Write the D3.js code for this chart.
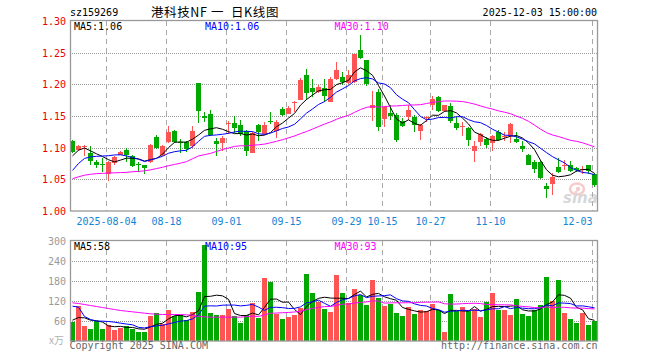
<!DOCTYPE html>
<html>
<head>
<meta charset="utf-8">
<script src="https://cdn.jsdelivr.net/npm/d3@7"></script>
<style>
  body { margin: 0; background: #fff; }
  svg { display: block; }
  text { font-family: "DejaVu Sans Mono", monospace; font-size: 10px; }
</style>
</head>
<body>
<div id="kline"></div>
<script>
// daily bars, 2025-07-25 .. 2025-12-03
const dates = ["07-25",
  "07-28","07-29","07-30","07-31","08-01",
  "08-04","08-05","08-06","08-07","08-08",
  "08-11","08-12","08-13","08-14","08-15",
  "08-18","08-19","08-20","08-21","08-22",
  "08-25","08-26","08-27","08-28","08-29",
  "09-01","09-02","09-03","09-04","09-05",
  "09-08","09-09","09-10","09-11","09-12",
  "09-15","09-16","09-17","09-18","09-19",
  "09-22","09-23","09-24","09-25","09-26",
  "09-29","09-30","10-09","10-10",
  "10-13","10-14","10-15","10-16","10-17",
  "10-20","10-21","10-22","10-23","10-24",
  "10-27","10-28","10-29","10-30","10-31",
  "11-03","11-04","11-05","11-06","11-07",
  "11-10","11-11","11-12","11-13","11-14",
  "11-17","11-18","11-19","11-20","11-21",
  "11-24","11-25","11-26","11-27","11-28",
  "12-01","12-02","12-03"];

const open = [1.1099,
  1.0964,1.1010,1.0917,1.0781,1.0735,
  1.0578,1.0760,1.0888,1.0969,1.0875,
  1.0740,1.0719,1.0771,1.1161,1.0890,
  1.1089,1.1266,1.1089,1.1094,1.1020,
  1.2019,1.1507,1.1533,1.1110,1.1073,
  1.1380,1.1397,1.1360,1.1256,1.0916,
  1.1360,1.1220,1.1415,1.1266,1.1610,
  1.1528,1.1706,1.1752,1.2155,1.1946,
  1.1883,1.1936,1.1726,1.2077,1.2108,
  1.2024,1.2040,1.2537,1.2380,
  1.1622,1.1883,1.1449,1.1554,1.1517,
  1.1417,1.1491,1.1491,1.1266,1.1480,
  1.1674,1.1794,1.1585,1.1660,1.1397,
  1.1340,1.1307,1.0943,1.1083,1.1135,
  1.1073,1.1245,1.1180,1.1177,1.1135,
  1.1031,1.0891,1.0771,1.0771,1.0396,
  1.0422,1.0698,1.0713,1.0719,1.0682,
  1.0651,1.0719,1.0578];

const high = [1.1115,
  1.1036,1.1040,1.1026,1.0813,1.0839,
  1.0786,1.0875,1.0950,1.0995,1.0890,
  1.0776,1.0720,1.1057,1.1193,1.1047,
  1.1344,1.1276,1.1140,1.1110,1.1340,
  1.2025,1.1560,1.1596,1.1150,1.1178,
  1.1423,1.1502,1.1439,1.1282,1.1245,
  1.1370,1.1400,1.1560,1.1440,1.1650,
  1.1660,1.1737,1.2103,1.2249,1.2092,
  1.1988,1.2082,1.2118,1.2354,1.2197,
  1.2223,1.2484,1.2772,1.2380,
  1.1894,1.1930,1.1658,1.1674,1.1543,
  1.1469,1.1674,1.1517,1.1376,1.1506,
  1.1815,1.1815,1.1674,1.1700,1.1491,
  1.1411,1.1333,1.1099,1.1229,1.1167,
  1.1203,1.1281,1.1255,1.1385,1.1245,
  1.1099,1.0906,1.0813,1.0813,1.0437,
  1.0594,1.0839,1.0802,1.0786,1.0693,
  1.0708,1.0734,1.0594];

const low = [1.0910,
  1.0950,1.0870,1.0724,1.0672,1.0620,
  1.0474,1.0734,1.0880,1.0776,1.0693,
  1.0620,1.0589,1.0755,1.0984,1.0875,
  1.1073,1.1073,1.0920,1.0930,1.1000,
  1.1387,1.1410,1.1178,1.0874,1.0942,
  1.1214,1.1230,1.1188,1.0864,1.0910,
  1.1110,1.1204,1.1370,1.1150,1.1507,
  1.1528,1.1560,1.1747,1.1752,1.1805,
  1.1857,1.1726,1.1726,1.2066,1.1988,
  1.2003,1.2024,1.2406,1.1972,
  1.1428,1.1266,1.1324,1.1439,1.1084,
  1.1328,1.1439,1.1240,1.1115,1.1413,
  1.1596,1.1570,1.1570,1.1387,1.1282,
  1.1177,1.1021,1.0771,1.1021,1.0995,
  1.0943,1.1099,1.1099,1.1073,1.1073,
  1.0927,1.0719,1.0604,1.0510,1.0198,
  1.0250,1.0604,1.0646,1.0615,1.0615,
  1.0578,1.0578,1.0385];

const close = [1.0938,
  1.1021,1.1025,1.0797,1.0734,1.0725,
  1.0771,1.0850,1.0938,1.0891,1.0708,
  1.0733,1.0672,1.1047,1.0995,1.1031,
  1.1255,1.1094,1.1078,1.0974,1.1270,
  1.1580,1.1465,1.1204,1.1057,1.1146,
  1.1390,1.1308,1.1214,1.0942,1.1230,
  1.1245,1.1360,1.1410,1.1413,1.1518,
  1.1632,1.1727,1.2066,1.1857,1.1873,
  1.1962,1.1815,1.2092,1.2233,1.2030,
  1.2145,1.2474,1.2422,1.2003,
  1.1673,1.1334,1.1648,1.1502,1.1115,
  1.1339,1.1596,1.1360,1.1360,1.1485,
  1.1763,1.1585,1.1669,1.1420,1.1310,
  1.1350,1.1125,1.1021,1.1219,1.1036,
  1.1177,1.1125,1.1190,1.1375,1.1094,
  1.0979,1.0734,1.0667,1.0526,1.0354,
  1.0542,1.0615,1.0719,1.0630,1.0646,
  1.0661,1.0630,1.0406];

// volume, 万
const volume = [56,
  104,44,34,60,34,
  47,32,39,44,34,
  26,26,73,83,51,
  91,74,78,61,86,
  146,288,82,78,76,
  94,74,53,78,112,
  67,188,175,80,64,
  70,77,98,199,142,
  116,94,86,196,142,
  112,154,138,106,
  182,127,103,109,82,
  74,100,79,91,88,
  109,91,25,139,88,
  100,88,94,70,115,
  142,91,91,76,124,
  79,73,91,106,190,
  118,181,82,64,52,
  82,46,58];

// moving-average values before a full window exists
const ma5Head = [1.087, 1.096, 1.0995, 1.095];
const ma10Head = [1.064, 1.075, 1.083, 1.0855, 1.0863, 1.0868, 1.0873, 1.0885, 1.0888];
const ma30Head = [1.051, 1.054, 1.0565, 1.058, 1.059, 1.0595, 1.060, 1.0603, 1.0606, 1.061,
  1.062, 1.0625, 1.0635, 1.065, 1.067, 1.069, 1.0715, 1.0735, 1.0755, 1.078,
  1.0825, 1.087, 1.089, 1.091, 1.094, 1.097, 1.0995, 1.102, 1.103];
const vma5Head = [61, 69, 68, 61];
const vma10Head = [103, 100, 72, 63, 58, 58, 57, 55, 52];
const vma30Head = [113, 111, 108, 105, 102, 99, 96, 93, 90, 88,
  86, 84, 82, 80, 79, 78, 78, 78, 78, 77,
  76, 72, 71, 70, 70, 70, 70, 70, 70];

const tickDates = ["08-04","08-18","09-01","09-15","09-29","10-15","10-27","11-10","12-03"];
const tickLabels = ["2025-08-04","08-18","09-01","09-15","09-29","10-15","10-27","11-10","12-03"];
const priceTicks = [1.00, 1.05, 1.10, 1.15, 1.20, 1.25, 1.30];
const volTicks = [60, 120, 180, 240, 300];
const priceMaLast = [1.06, 1.06, 1.10];
const volMaLast = [58, 95, 93];
const titleParts = ["港科技NF", "一", "日K线图"];

const W = 660, H = 360;
const left = 70, right = 597.5;
const UP = "#ff5454", DOWN = "#00a800";
const maColors = ["#000000", "#0000ff", "#ff00ff"];

const svg = d3.select("#kline").append("svg")
  .attr("width", W).attr("height", H)
  .attr("viewBox", `0 0 ${W} ${H}`);

const x = d3.scaleBand().domain(dates)
  .range([69.5, 597.5])
  .paddingInner(1 / 6).paddingOuter(1 / 12);
const bw = x.bandwidth();
const cx = d => x(d) + bw / 2;

const y = d3.scaleLinear().domain([1.0, 1.3]).range([211, 21]);
const yv = d3.scaleLinear().domain([0, 300]).range([340.5, 240.5]);

function movingAvg(vals, n, head) {
  return vals.map((v, i) => i < n - 1 ? head[i] : d3.mean(vals.slice(i - n + 1, i + 1)));
}

const priceMa = [movingAvg(close, 5, ma5Head), movingAvg(close, 10, ma10Head), movingAvg(close, 30, ma30Head)];
const volMa = [movingAvg(volume, 5, vma5Head), movingAvg(volume, 10, vma10Head), movingAvg(volume, 30, vma30Head)];

const px = v => Math.round(v) + 0.5;

// ---------- grids ----------
function grid(g, ys, top, bottom) {
  g.selectAll(".hg").data(ys).join("line")
    .attr("x1", left).attr("x2", right)
    .attr("y1", d => px(d)).attr("y2", d => px(d))
    .attr("stroke", "#9a9a9a").attr("stroke-dasharray", "1,1");
  g.selectAll(".vg").data(tickDates).join("line")
    .attr("x1", d => x(d) + 0.5).attr("x2", d => x(d) + 0.5)
    .attr("y1", top).attr("y2", bottom)
    .attr("stroke", "#a8a8a8").attr("stroke-dasharray", "5,4");
}

const gPrice = svg.append("g");
grid(gPrice, priceTicks.slice(1, -1).map(y), 21, 211);
const gVol = svg.append("g");
grid(gVol, volTicks.slice(0, -1).map(yv), 241, 340);

// ---------- watermark ----------
const wm = svg.append("g").attr("opacity", 0.55);
wm.append("ellipse").attr("cx", 577).attr("cy", 189).attr("rx", 7).attr("ry", 5.5)
  .attr("fill", "none").attr("stroke", "#f2a0a0").attr("stroke-width", 2.5);
wm.append("circle").attr("cx", 578).attr("cy", 189).attr("r", 2.2).attr("fill", "#f2a0a0");
wm.append("text").attr("x", 563).attr("y", 203)
  .style("font-family", "DejaVu Sans").style("font-size", "15px")
  .style("font-weight", "bold").style("font-style", "italic")
  .attr("fill", "#b8b8b8").text("sina");

// ---------- candles ----------
const idx = d3.range(dates.length);
const candles = svg.append("g");
candles.selectAll("line").data(idx).join("line")
  .attr("x1", i => cx(dates[i])).attr("x2", i => cx(dates[i]))
  .attr("y1", i => y(high[i])).attr("y2", i => y(low[i]))
  .attr("stroke", i => close[i] >= open[i] ? UP : DOWN)
  .attr("shape-rendering", "crispEdges");
candles.selectAll("rect").data(idx).join("rect")
  .attr("x", i => x(dates[i])).attr("width", bw)
  .attr("y", i => y(Math.max(open[i], close[i])))
  .attr("height", i => Math.max(1, Math.abs(y(open[i]) - y(close[i]))))
  .attr("fill", i => close[i] >= open[i] ? UP : DOWN)
  .attr("shape-rendering", "crispEdges");

// ---------- volume bars ----------
svg.append("g").selectAll("rect").data(idx).join("rect")
  .attr("x", i => x(dates[i])).attr("width", bw)
  .attr("y", i => yv(volume[i]))
  .attr("height", i => yv(0) - yv(volume[i]))
  .attr("fill", i => close[i] >= open[i] ? UP : DOWN)
  .attr("shape-rendering", "crispEdges");

// ---------- MA lines ----------
const priceLine = d3.line().x((d, i) => cx(dates[i])).y(d => y(d));
const volLine = d3.line().x((d, i) => cx(dates[i])).y(d => yv(d));
svg.append("g").selectAll("path").data(priceMa).join("path")
  .attr("d", priceLine).attr("fill", "none")
  .attr("stroke", (d, k) => maColors[k]).attr("stroke-width", 1);
svg.append("g").selectAll("path").data(volMa).join("path")
  .attr("d", volLine).attr("fill", "none")
  .attr("stroke", (d, k) => maColors[k]).attr("stroke-width", 1);

// ---------- frames ----------
[[21, 211], [240.5, 340.5]].forEach(([t, b]) => {
  svg.append("rect").attr("x", left + 0.5).attr("y", Math.round(t) - 0.5)
    .attr("width", right - left - 0.5).attr("height", Math.round(b) - Math.round(t) + 0.5)
    .attr("fill", "none").attr("stroke", "#999").attr("stroke-width", 1.3);
});

// ---------- axis labels ----------
svg.append("g").selectAll("text").data(priceTicks).join("text")
  .attr("x", 66).attr("y", d => y(d) + 4)
  .attr("text-anchor", "end").attr("fill", "#f00000")
  .text(d => d3.format(".2f")(d));

svg.append("g").selectAll("text").data(volTicks).join("text")
  .attr("x", 66).attr("y", d => yv(d) + 4)
  .attr("text-anchor", "end").attr("fill", "#9a9a9a")
  .text(d => d);
svg.append("text").attr("x", 49).attr("y", 344).attr("fill", "#b0b0b0")
  .style("font-family", "'Noto Sans CJK SC', sans-serif").style("font-size", "10px").text("x万");

svg.append("g").selectAll("text").data(tickDates).join("text")
  .attr("x", d => x(d) + 0.5)
  .attr("y", 225)
  .attr("text-anchor", (d, i) => i === tickDates.length - 1 ? "end" : "middle")
  .attr("fill", "#1484d6")
  .text((d, i) => tickLabels[i]);

// ---------- titles ----------
svg.append("text").attr("x", 70).attr("y", 16).attr("fill", "#000").text("sz159269");
const titleX = [151, 211, 231];
svg.append("g").selectAll("text").data(titleParts).join("text")
  .attr("x", (d, k) => titleX[k]).attr("y", 17).attr("fill", "#000")
  .style("font-family", "'Noto Sans CJK SC', sans-serif").style("font-size", "12.5px")
  .style("letter-spacing", "0.6px")
  .text(d => d);
svg.append("text").attr("x", 597).attr("y", 16).attr("text-anchor", "end")
  .attr("fill", "#000").text("2025-12-03 15:00:00");

const maNames = ["MA5", "MA10", "MA30"];
const maX = [74, 205, 334.5];
svg.append("g").selectAll("text").data(maNames).join("text")
  .attr("x", (d, k) => maX[k]).attr("y", 30)
  .attr("fill", (d, k) => maColors[k])
  .text((d, k) => `${d}:${d3.format(".2f")(priceMaLast[k])}`);
svg.append("g").selectAll("text").data(maNames).join("text")
  .attr("x", (d, k) => maX[k]).attr("y", 250)
  .attr("fill", (d, k) => maColors[k])
  .text((d, k) => `${d}:${volMaLast[k]}`);

svg.append("text").attr("x", 69.5).attr("y", 349).attr("fill", "#666").text("Copyright 2025 SINA.COM");
svg.append("text").attr("x", 597.5).attr("y", 349).attr("text-anchor", "end")
  .attr("fill", "#666").text("http://finance.sina.com.cn");
</script>
</body>
</html>
